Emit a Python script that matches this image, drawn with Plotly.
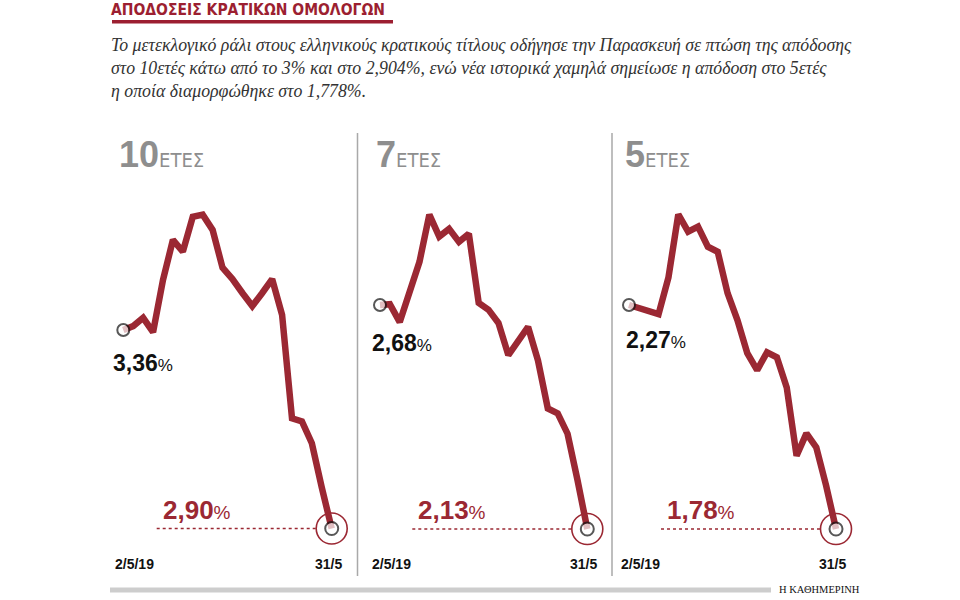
import plotly.graph_objects as go

W, H = 960, 600

# ---------------- data ----------------
dates = ["2/5", "3/5", "6/5", "7/5", "8/5", "9/5", "10/5", "13/5", "14/5", "15/5", "16/5",
         "17/5", "20/5", "21/5", "22/5", "23/5", "24/5", "27/5", "28/5", "29/5", "30/5", "31/5"]
yield_10y = [3.360, 3.369, 3.388, 3.355, 3.475, 3.567, 3.540, 3.620, 3.625, 3.590, 3.503,
             3.477, 3.445, 3.415, 3.445, 3.477, 3.395, 3.157, 3.150, 3.100, 2.998, 2.904]
yield_7y = [2.680, 2.682, 2.638, 2.712, 2.786, 2.902, 2.848, 2.867, 2.835, 2.855, 2.685,
            2.668, 2.636, 2.557, 2.591, 2.626, 2.544, 2.426, 2.414, 2.364, 2.251, 2.130]
yield_5y = [2.270, 2.263, 2.257, 2.250, 2.330, 2.469, 2.431, 2.442, 2.398, 2.387, 2.296,
            2.237, 2.164, 2.127, 2.166, 2.155, 2.089, 1.939, 1.988, 1.957, 1.873, 1.778]
tenor_numbers = ["10", "7", "5"]
tenor_word = "ΕΤΕΣ"
first_tick = "2/5/19"
last_tick = "31/5"
title_text = "ΑΠΟΔΟΣΕΙΣ ΚΡΑΤΙΚΩΝ ΟΜΟΛΟΓΩΝ"
subtitle_lines = [
    "Το μετεκλογικό ράλι στους ελληνικούς κρατικούς τίτλους οδήγησε την Παρασκευή σε πτώση της απόδοσης",
    "στο 10ετές κάτω από το 3% και στο 2,904%, ενώ νέα ιστορικά χαμηλά σημείωσε η απόδοση στο 5ετές",
    "η οποία διαμορφώθηκε στο 1,778%.",
]
source_text = "Η ΚΑΘΗΜΕΡΙΝΗ"
series = [yield_10y, yield_7y, yield_5y]

# ---------------- styling / layout constants ----------------
RED = "#9b2833"
TITLE_RED = "#9c1f31"
GREY = "#8e8e8e"
COND = "DejaVu Sans Condensed, DejaVu Sans, sans-serif"
SANS = "Liberation Sans, Arial, sans-serif"
SERIF = "Liberation Serif, Times New Roman, serif"

# pixel geometry of each panel (first point x, last point x, first point y, last point y)
panels = [
    dict(x0=123.3, x1=331.7, yf=330, yl=528.5, sdx=-12, sdy=-33, sep=357.5),
    dict(x0=380.0, x1=587.3, yf=305, yl=529, sdx=-10, sdy=-38, sep=612.0),
    dict(x0=629.0, x1=836.0, yf=305, yl=529, sdx=-5, sdy=-35, sep=None),
]
TOP_PX, BOT_PX = 180, 565
PAD = 1.5


def fx(px):
    return px / W


def fy(py):
    return 1 - py / H


fig = go.Figure()
annotations = []
shapes = []
n = len(dates)

for i, (vals, p) in enumerate(zip(series, panels)):
    k = i + 1
    xa = "x" if k == 1 else f"x{k}"
    ya = "y" if k == 1 else f"y{k}"
    ppu = (p["x1"] - p["x0"]) / (n - 1)
    xdom = [fx(p["x0"] - PAD * ppu), fx(p["x1"] + PAD * ppu)]
    scale = (p["yl"] - p["yf"]) / (vals[0] - vals[-1])
    ybot = vals[-1] - (BOT_PX - p["yl"]) / scale
    ytop = vals[0] + (p["yf"] - TOP_PX) / scale
    ydom = [fy(BOT_PX), fy(TOP_PX)]

    axis_common = dict(showgrid=False, zeroline=False, showticklabels=False,
                       showline=False, ticks="", fixedrange=True)
    fig.update_layout(**{
        ("xaxis" if k == 1 else f"xaxis{k}"): dict(domain=xdom, range=[-PAD, n - 1 + PAD],
                                                   type="category", anchor=ya, **axis_common),
        ("yaxis" if k == 1 else f"yaxis{k}"): dict(domain=ydom, range=[ybot, ytop],
                                                   anchor=xa, **axis_common),
    })

    fig.add_trace(go.Scatter(x=dates, y=vals, mode="lines", xaxis=xa, yaxis=ya,
                             line=dict(color=RED, width=6.5), hoverinfo="skip",
                             showlegend=False))
    # end ring
    fig.add_trace(go.Scatter(x=[dates[-1]], y=[vals[-1]], mode="markers", xaxis=xa, yaxis=ya,
                             marker=dict(symbol="circle-open", size=31, color=RED,
                                         line=dict(width=1.6)),
                             cliponaxis=False, showlegend=False, hoverinfo="skip"))
    # start & end dots
    fig.add_trace(go.Scatter(x=[dates[0], dates[-1]], y=[vals[0], vals[-1]], mode="markers",
                             xaxis=xa, yaxis=ya,
                             marker=dict(symbol="circle", size=[12, 13], color="white",
                                         line=dict(color="#111111", width=2)),
                             cliponaxis=False, showlegend=False, hoverinfo="skip"))

    # header "10ΕΤΕΣ"
    annotations.append(dict(
        xref="paper", yref="paper", x=fx(p["x0"] - 6), y=fy(155), xanchor="left", yanchor="middle",
        text=(f"<span style='font-family:{SANS};font-size:36px;font-weight:bold'>"
              f"{tenor_numbers[i]}</span>"
              f"<span style='font-family:{COND};font-size:20px'>{tenor_word}</span>"),
        showarrow=False, font=dict(color=GREY, size=20, family=COND)))

    # start label
    start_txt = f"{vals[0]:.2f}".replace(".", ",")
    annotations.append(dict(
        xref="paper", yref="paper", x=fx(p["x0"] + p["sdx"]), y=fy(p["yf"] - p["sdy"]),
        xanchor="left", yanchor="middle",
        text=f"<b>{start_txt}</b><span style='font-size:17px'>%</span>",
        showarrow=False, font=dict(color="#111111", size=23, family=SANS)))

    # end label
    end_txt = f"{vals[-1]:.2f}".replace(".", ",")
    annotations.append(dict(
        xref="paper", yref="paper", x=fx(p["x1"] - 171), y=fy(p["yl"] - 19),
        xanchor="left", yanchor="middle",
        text=f"<b>{end_txt}</b><span style='font-size:19px'>%</span>",
        showarrow=False, font=dict(color=RED, size=26, family=SANS)))

    # dotted reference line at the last value
    shapes.append(dict(type="line", xref="paper", yref=ya, x0=fx(p["x1"] - 175),
                       x1=fx(p["x1"] - 16), y0=vals[-1], y1=vals[-1],
                       line=dict(color=RED, width=1.4, dash="dot")))

    # date labels
    annotations.append(dict(
        xref="paper", yref="paper", x=fx(p["x0"] - 10), y=fy(564), xanchor="left",
        yanchor="middle", text=f"<b>{first_tick}</b>", showarrow=False,
        font=dict(color="#111111", size=14, family=SANS)))
    annotations.append(dict(
        xref="paper", yref="paper", x=fx(p["x1"] + 12), y=fy(564), xanchor="right",
        yanchor="middle", text=f"<b>{last_tick}</b>", showarrow=False,
        font=dict(color="#111111", size=14, family=SANS)))

    if p["sep"] is not None:
        shapes.append(dict(type="line", xref="paper", yref="paper", x0=fx(p["sep"]),
                           x1=fx(p["sep"]), y0=fy(133), y1=fy(576),
                           line=dict(color="#a9a9a9", width=1.5)))

# title
annotations.append(dict(
    xref="paper", yref="paper", x=fx(110), y=fy(9.5), xanchor="left", yanchor="middle",
    text=f"<b>{title_text}</b>", showarrow=False, borderpad=0,
    font=dict(color=TITLE_RED, size=15.5, family=COND)))
shapes.append(dict(type="rect", xref="paper", yref="paper", x0=fx(112), x1=fx(393),
                   y0=fy(23.5), y1=fy(20), fillcolor=TITLE_RED, line=dict(width=0)))

# subtitle
annotations.append(dict(
    xref="paper", yref="paper", x=fx(109), y=fy(33), xanchor="left", yanchor="top",
    align="left", text="<i>" + "<br>".join(subtitle_lines) + "</i>", showarrow=False,
    font=dict(color="#333333", size=17.8, family=SERIF)))

# footer
shapes.append(dict(type="line", xref="paper", yref="paper", x0=fx(110), x1=fx(771),
                   y0=fy(590), y1=fy(590), line=dict(color="#cdcdcd", width=5)))
annotations.append(dict(
    xref="paper", yref="paper", x=fx(777), y=fy(589), xanchor="left", yanchor="middle",
    text=source_text, showarrow=False, font=dict(color="#111111", size=10.5, family=SERIF)))

fig.update_layout(
    width=W, height=H, margin=dict(l=0, r=0, t=0, b=0),
    paper_bgcolor="white", plot_bgcolor="rgba(0,0,0,0)",
    showlegend=False, annotations=annotations, shapes=shapes,
)

fig.write_html("out.html", config={"displayModeBar": False})
